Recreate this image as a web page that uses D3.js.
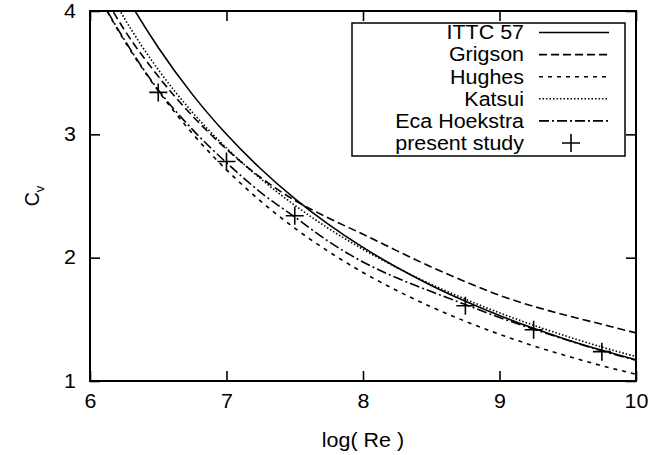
<!DOCTYPE html>
<html>
<head>
<meta charset="utf-8">
<script src="https://cdn.jsdelivr.net/npm/d3@7"></script>
<style>
  html, body { margin: 0; padding: 0; background: #fff; }
  svg { display: block; }
  text { font-family: "Liberation Sans", Arial, Helvetica, sans-serif; fill: #000; }
</style>
</head>
<body>
<svg id="chart" width="651" height="455"></svg>
<script>
// ---- data ----
const logRe = [6.0, 6.25, 6.5, 6.75, 7.0, 7.25, 7.5, 7.75, 8.0, 8.25, 8.5, 8.75, 9.0, 9.25, 9.5, 9.75, 10.0];
const ittc57 = [4.688, 4.152, 3.704, 3.324, 3.000, 2.721, 2.479, 2.268, 2.083, 1.920, 1.775, 1.646, 1.531, 1.427, 1.333, 1.249, 1.172];
const grigson = [4.33, 3.85, 3.47, 3.15, 2.88, 2.65, 2.465, 2.32, 2.19, 2.055, 1.925, 1.805, 1.695, 1.605, 1.53, 1.46, 1.39];
const hughes = [4.251, 3.762, 3.353, 3.007, 2.712, 2.459, 2.239, 2.048, 1.880, 1.732, 1.601, 1.484, 1.379, 1.285, 1.201, 1.124, 1.055];
const katsui = [4.468, 3.945, 3.525, 3.179, 2.889, 2.640, 2.425, 2.235, 2.068, 1.918, 1.784, 1.663, 1.553, 1.452, 1.360, 1.275, 1.198];
const ecaHoekstra = [4.25, 3.77, 3.36, 3.04, 2.77, 2.53, 2.33, 2.13, 1.965, 1.835, 1.725, 1.62, 1.515, 1.42, 1.33, 1.245, 1.168];
const studyX = [6.5, 7.0, 7.5, 8.75, 9.25, 9.75];
const studyY = [3.34, 2.78, 2.34, 1.61, 1.415, 1.238];
const xTicks = [6, 7, 8, 9, 10];
const yTicks = [1, 2, 3, 4];
const seriesNames = ["ITTC 57", "Grigson", "Hughes", "Katsui", "Eca Hoekstra", "present study"];

// ---- layout ----
const svg = d3.select("#chart");
const L = 90, R = 636, T = 11, B = 381;
const x = d3.scaleLinear().domain([6, 10]).range([L, R]);
const y = d3.scaleLinear().domain([1, 4]).range([B, T]);
const FS = 19.5;
const STRETCH = 1.1;

svg.append("defs").append("clipPath").attr("id", "clip")
  .append("rect").attr("x", L).attr("y", T).attr("width", R - L).attr("height", B - T);

const styles = [
  { data: ittc57, dash: null },
  { data: grigson, dash: "8,4" },
  { data: hughes, dash: "4,5" },
  { data: katsui, dash: "1.5,2" },
  { data: ecaHoekstra, dash: "10,3,2,3" }
];

const line = d3.line().x(d => x(d[0])).y(d => y(d[1])).curve(d3.curveMonotoneX);

const plot = svg.append("g").attr("clip-path", "url(#clip)");
styles.forEach(s => {
  plot.append("path")
    .datum(logRe.map((v, i) => [v, s.data[i]]))
    .attr("d", line)
    .attr("fill", "none")
    .attr("stroke", "#000")
    .attr("stroke-width", 1.6)
    .attr("stroke-dasharray", s.dash);
});

// points (plus markers)
const pm = 9;
const pts = svg.append("g");
studyX.forEach((vx, i) => {
  const cx = x(vx), cy = y(studyY[i]);
  pts.append("path")
    .attr("d", `M${cx - pm},${cy}H${cx + pm}M${cx},${cy - pm}V${cy + pm}`)
    .attr("stroke", "#000").attr("stroke-width", 1.6).attr("fill", "none");
});

// axes with inward ticks
const tick = 10;
const gx = svg.append("g").attr("transform", `translate(0,${B})`)
  .call(d3.axisBottom(x).tickValues(xTicks).tickSizeInner(-tick).tickSizeOuter(0).tickPadding(13).tickFormat(d3.format("d")));
const gxt = svg.append("g").attr("transform", `translate(0,${T})`)
  .call(d3.axisTop(x).tickValues(xTicks).tickSizeInner(-tick).tickSizeOuter(0).tickFormat(""));
const gy = svg.append("g").attr("transform", `translate(${L},0)`)
  .call(d3.axisLeft(y).tickValues(yTicks).tickSizeInner(-tick).tickSizeOuter(0).tickPadding(14).tickFormat(d3.format("d")));
const gyr = svg.append("g").attr("transform", `translate(${R},0)`)
  .call(d3.axisRight(y).tickValues(yTicks).tickSizeInner(-tick).tickSizeOuter(0).tickFormat(""));
[gx, gxt, gy, gyr].forEach(g => {
  g.select(".domain").remove();
  g.selectAll(".tick line").attr("stroke", "#000").attr("stroke-width", 1.6);
  g.selectAll(".tick text").attr("font-size", FS).attr("font-family", "Liberation Sans, Arial, sans-serif").attr("fill", "#000");
});

// border
svg.append("rect").attr("x", L).attr("y", T).attr("width", R - L).attr("height", B - T)
  .attr("fill", "none").attr("stroke", "#000").attr("stroke-width", 2);

// axis labels
svg.append("text").attr("x", (L + R) / 2).attr("y", 447).attr("text-anchor", "middle")
  .attr("font-size", FS).text("log( Re )");
const yl = svg.append("text").attr("transform", `translate(39,${(T + B) / 2}) rotate(-90)`)
  .attr("text-anchor", "middle").attr("font-size", FS);
yl.append("tspan").text("C");
yl.append("tspan").attr("font-size", 13).attr("dy", 5).text("v");

// legend
const lg = svg.append("g");
lg.append("rect").attr("x", 352).attr("y", 23).attr("width", 273).attr("height", 133)
  .attr("fill", "#fff").attr("stroke", "#000").attr("stroke-width", 1.5);
const rowY = i => 32.5 + i * 22.1;
seriesNames.forEach((name, i) => {
  lg.append("text").attr("x", 524).attr("y", rowY(i)).attr("dy", "0.35em")
    .attr("text-anchor", "end").attr("font-size", FS).attr("class", "stretch").text(name);
  if (i < styles.length) {
    lg.append("line").attr("x1", 539).attr("x2", 609).attr("y1", rowY(i)).attr("y2", rowY(i))
      .attr("stroke", "#000").attr("stroke-width", 1.6).attr("stroke-dasharray", styles[i].dash);
  } else {
    const cx = 571, cy = rowY(i);
    lg.append("path").attr("d", `M${cx - pm},${cy}H${cx + pm}M${cx},${cy - pm}V${cy + pm}`)
      .attr("stroke", "#000").attr("stroke-width", 1.6);
  }
});

// widen glyphs slightly, as in the reference rendering
svg.selectAll("text").each(function () {
  if (this.querySelector("tspan")) return;
  const w = this.getComputedTextLength();
  if (w > 0) d3.select(this).attr("textLength", w * STRETCH).attr("lengthAdjust", "spacingAndGlyphs");
});
</script>
</body>
</html>
